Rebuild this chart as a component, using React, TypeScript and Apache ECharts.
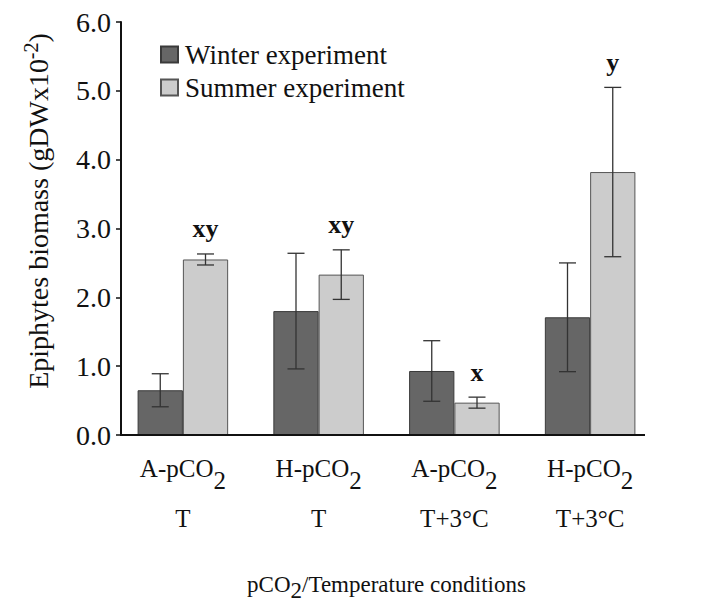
import React, { useEffect, useRef } from "react";
import * as echarts from "echarts";

const pco2Labels = ["A-pCO", "H-pCO", "A-pCO", "H-pCO"];
const tempLabels = ["T", "T", "T+3°C", "T+3°C"];
const winterValues = [0.65, 1.8, 0.93, 1.71];
const winterErrors = [0.24, 0.84, 0.44, 0.79];
const summerValues = [2.55, 2.33, 0.47, 3.82];
const summerErrors = [0.08, 0.36, 0.08, 1.23];
const summerLetters = ["xy", "xy", "x", "y"];
const yTicks = [0, 1, 2, 3, 4, 5, 6];

const FONT = "'Liberation Serif', 'Times New Roman', serif";

function errorSeries(name: string, values: number[], errors: number[], sign: number, letters: string[] | null) {
  return {
    type: "custom",
    name: name + " err",
    z: 10,
    silent: true,
    data: values.map((v, i) => [i, v, errors[i]]),
    renderItem: (params: any, api: any) => {
      const idx = api.value(0);
      const v = api.value(1);
      const e = api.value(2);
      const letter = letters ? letters[idx] : "";
      const band = api.size([1, 0])[0];
      const off = (sign * band) / 6;
      const x = api.coord([idx, v])[0] + off;
      const yTop = api.coord([idx, v + e])[1];
      const yBot = api.coord([idx, v - e])[1];
      const cap = 8.5;
      const st = { stroke: "#333", lineWidth: 1.3 };
      const children: any[] = [
        { type: "line", shape: { x1: x, y1: yTop, x2: x, y2: yBot }, style: st },
        { type: "line", shape: { x1: x - cap, y1: yTop, x2: x + cap, y2: yTop }, style: st },
        { type: "line", shape: { x1: x - cap, y1: yBot, x2: x + cap, y2: yBot }, style: st },
      ];
      if (letter) {
        children.push({
          type: "text",
          x: x,
          y: yTop - 12,
          style: {
            text: letter,
            fill: "#111",
            font: "bold 26px " + FONT,
            textAlign: "center",
            textVerticalAlign: "bottom",
          },
        });
      }
      return { type: "group", children };
    },
  };
}

export default function App() {
  const ref = useRef<HTMLDivElement>(null);
  useEffect(() => {
    if (!ref.current) return;
    const chart = echarts.init(ref.current, undefined, { renderer: "svg" });
    const option: any = {
      animation: false,
      backgroundColor: "#ffffff",
      textStyle: { fontFamily: FONT, color: "#111" },
      grid: { left: 115, right: 58, top: 22, bottom: 171, containLabel: false, outerBoundsMode: "none" },
      legend: {
        orient: "vertical",
        left: 155,
        top: 36,
        itemWidth: 17,
        itemHeight: 16,
        itemGap: 6,
        icon: "rect",
        data: ["Winter experiment", "Summer experiment"],
        textStyle: { fontFamily: FONT, fontSize: 27, color: "#111", padding: [0, 0, 0, 2] },
      },
      xAxis: {
        type: "category",
        data: pco2Labels.map((p, i) => p + "|" + tempLabels[i]),
        axisLine: { show: false },
        axisTick: { show: false },
        axisLabel: {
          margin: 8,
          interval: 0,
          fontFamily: FONT,
          fontSize: 25,
          color: "#111",
          formatter: (val: string) => {
            const [p, t] = val.split("|");
            return "{a|" + p + "}{sub|2}\n{a|" + t + "}";
          },
          rich: {
            a: { fontFamily: FONT, fontSize: 25, color: "#111", lineHeight: 50 },
            sub: { fontFamily: FONT, fontSize: 25, color: "#111", lineHeight: 40, verticalAlign: "bottom" },
          },
        },
        name: "{a|pCO}{sub|2}{a|/Temperature conditions}",
        nameLocation: "middle",
        nameGap: 131,
        nameTextStyle: {
          fontFamily: FONT,
          fontSize: 23,
          color: "#111",
          rich: {
            a: { fontFamily: FONT, fontSize: 23, color: "#111", lineHeight: 36 },
            sub: { fontFamily: FONT, fontSize: 23, color: "#111", lineHeight: 28, verticalAlign: "bottom" },
          },
        },
      },
      yAxis: {
        type: "value",
        min: yTicks[0],
        max: yTicks[yTicks.length - 1],
        interval: 1,
        offset: -6,
        splitLine: { show: false },
        axisLine: { show: true, lineStyle: { color: "#111", width: 2 } },
        axisTick: { show: true, inside: false, length: 5, lineStyle: { color: "#111", width: 1.5 } },
        axisLabel: {
          margin: 10,
          fontFamily: FONT,
          fontSize: 28,
          color: "#111",
          formatter: (v: number) => v.toFixed(1),
        },
      },
      graphic: [
        {
          type: "line",
          shape: { x1: 120, y1: 435, x2: 645, y2: 435 },
          style: { stroke: "#111", lineWidth: 2 },
          z: 100,
        },
        {
          type: "text",
          x: 38,
          y: 211,
          rotation: Math.PI / 2,
          style: {
            text: "{a|Epiphytes biomass (gDWx10}{sup|-2}{a|)}",
            align: "center",
            verticalAlign: "middle",
            rich: {
              a: { fontFamily: FONT, fontSize: 28, fill: "#111", lineHeight: 34 },
              sup: { fontFamily: FONT, fontSize: 20, fill: "#111", lineHeight: 20, verticalAlign: "top" },
            },
          },
        },
      ],
      series: [
        {
          type: "bar",
          name: "Winter experiment",
          data: winterValues,
          barGap: "0%",
          barCategoryGap: "33.3%",
          itemStyle: { color: "#666666", borderColor: "#3a3a3a", borderWidth: 1 },
        },
        {
          type: "bar",
          name: "Summer experiment",
          data: summerValues,
          barGap: "0%",
          barCategoryGap: "33.3%",
          itemStyle: { color: "#cccccc", borderColor: "#555555", borderWidth: 1 },
        },
        errorSeries("Winter", winterValues, winterErrors, -1, null),
        errorSeries("Summer", summerValues, summerErrors, 1, summerLetters),
      ],
    };
    chart.setOption(option);
    return () => chart.dispose();
  }, []);
  return (
    <div
      ref={ref}
      style={{ position: "fixed", left: 0, top: 0, width: 716, height: 606, background: "#fff" }}
    />
  );
}
